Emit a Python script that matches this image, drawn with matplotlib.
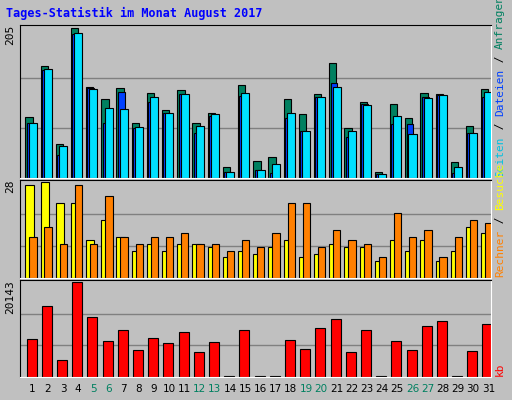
import numpy as np
import matplotlib.pyplot as plt

days = np.arange(1, 32)
hits_y = [289,139,369,28,201,238,205,307,220,268,211,307,277,438,196,418,406,238,280,223,130,322,247,451,250,292,220,223,421,316,208]
files_y = [307,151,400,46,204,307,217,322,247,277,223,337,286,451,229,445,454,292,331,232,190,349,250,457,310,310,232,226,454,337,232]
pages_y = [307,148,376,43,208,262,265,319,232,277,223,316,280,451,220,445,427,277,331,232,202,331,253,457,286,340,235,226,436,337,217]
hits = [(469 - v) * 205 / 441 for v in hits_y]
files = [(469 - v) * 205 / 441 for v in files_y]
pages = [(469 - v) * 205 / 441 for v in pages_y]
visits = [27,28,22,22,11,17,12,8,10,8,10,10,9,6,8,7,9,11,6,7,10,9,9,5,11,8,11,5,8,15,13]
sites = [12,15,10,27,10,24,12,10,12,12,13,10,10,8,11,9,13,22,22,9,14,11,10,6,19,12,14,6,12,17,16]
kb_y = [493,397,553,328,430,499,466,523,490,505,472,529,502,600,466,600,600,496,520,460,436,529,466,600,499,523,454,442,600,526,448]
kb = [(602 - v) * 20143 / 274 for v in kb_y]
weekend = [5, 6, 12, 13, 19, 20, 26, 27]

W, H = 512, 400
fig = plt.figure(figsize=(W / 100, H / 100), dpi=100)
fig.patch.set_facecolor('#C0C0C0')
mono = 'DejaVu Sans Mono'

def panel(top, bottom, ymax):
    ax = fig.add_axes([20 / W, 1 - bottom / H, 471 / W, (bottom - top) / H])
    ax.set_facecolor('#C0C0C0')
    ax.set_xlim(0.5, 31.5)
    ax.set_ylim(0, ymax * 1.02)
    for g in (ymax / 3, 2 * ymax / 3):
        ax.axhline(g, color='#808080', lw=1, zorder=0)
    ax.set_xticks([])
    ax.set_yticks([])
    for s in ax.spines.values():
        s.set_color('white')
    ax.spines['left'].set_color('black')
    ax.spines['top'].set_color('black')
    return ax

ek = dict(edgecolor='black', linewidth=0.8, align='edge')
ax1 = panel(25, 178, 205)
ax1.bar(days - 0.15, hits, 0.48, color='#008060', **ek)
ax1.bar(days - 0.06, files, 0.45, color='#0040FF', **ek)
ax1.bar(days + 0.07, pages, 0.53, color='#00E0FF', **ek)

ax2 = panel(180, 278, 28)
ax2.bar(days - 0.15, visits, 0.55, color='#FFFF00', **ek)
ax2.bar(days + 0.11, sites, 0.48, color='#FF8000', **ek)

ax3 = panel(280, 377, 20143)
ax3.bar(days - 0.06, kb, 0.66, color='#FF0000', **ek)

fig.text(6 / W, 1 - 13 / H, 'Tages-Statistik im Monat August 2017', color='#0000FF',
         fontsize=8.5, fontweight='bold', family=mono, va='center')
for y, t in ((25, '205'), (180, '28'), (280, '20143')):
    fig.text(10 / W, 1 - y / H, t, rotation=90, fontsize=8, family=mono, ha='center', va='top')

fig.canvas.draw()
r = fig.canvas.get_renderer()

def side(parts, bottom):
    # stack rotated pieces upward from the bottom of the panel
    y = bottom
    for t, c in parts:
        txt = fig.text(500 / W, 1 - y / H, t, rotation=90, color=c, fontsize=8,
                       family=mono, ha='center', va='bottom')
        y -= txt.get_window_extent(r).height

side([('Seiten', '#00C0E0'), (' / ', 'black'), ('Dateien', '#0040FF'),
      (' / ', 'black'), ('Anfragen', '#008060')], 177)
side([('Rechner', '#FF8000'), (' / ', 'black'), ('Besuche', '#FFFF00')], 277)
side([('kb', '#FF0000')], 376)

for d in days:
    fig.text((20 + (d - 0.5) * 471 / 31 + 5) / W, 1 - 389 / H, str(d), fontsize=7.5,
             color='#008060' if d in weekend else 'black', ha='center', va='center')

fig.savefig('out.png', dpi=100, facecolor=fig.get_facecolor())
